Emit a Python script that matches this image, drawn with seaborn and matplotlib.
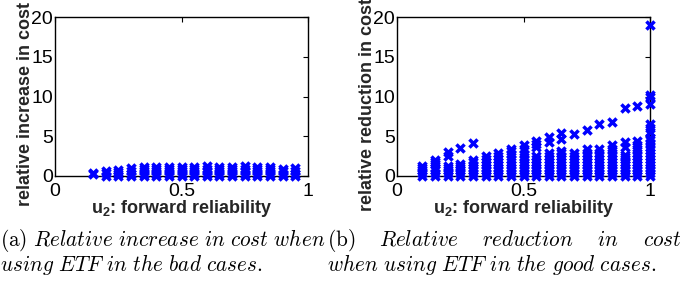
import numpy as np
import pandas as pd
import matplotlib
matplotlib.use("Agg")
import matplotlib.pyplot as plt
import seaborn as sns

# ---------------- data ----------------
# (a) relative increase in cost, bad cases
a_u2 = [0.15, 0.20, 0.25, 0.30, 0.35, 0.40, 0.45, 0.50, 0.55,
        0.60, 0.65, 0.70, 0.75, 0.80, 0.85, 0.90, 0.95]
a_cost = [
    [0.25, 0.4],
    [0.05, 0.35, 0.6],
    [0.0, 0.3, 0.55, 0.75],
    [0.0, 0.3, 0.6, 0.95],
    [0.0, 0.3, 0.6, 0.9, 1.1],
    [0.0, 0.3, 0.6, 0.9, 1.15],
    [0.0, 0.3, 0.6, 0.9, 1.15],
    [0.0, 0.3, 0.6, 0.9, 1.15],
    [0.0, 0.3, 0.6, 0.9, 1.15],
    [0.0, 0.3, 0.6, 0.9, 1.2],
    [0.0, 0.3, 0.6, 0.9, 1.15],
    [0.0, 0.3, 0.6, 0.9, 1.15],
    [0.0, 0.3, 0.6, 0.9, 1.2],
    [0.0, 0.3, 0.6, 0.9, 1.15],
    [0.0, 0.3, 0.6, 0.9, 1.15],
    [0.0, 0.3, 0.6, 0.9],
    [0.0, 0.3, 0.6, 0.95],
]

# (b) relative reduction in cost, good cases
b_u2 = [0.10, 0.15, 0.20, 0.25, 0.30, 0.35, 0.40, 0.45, 0.50, 0.55,
        0.60, 0.65, 0.70, 0.75, 0.80, 0.85, 0.90, 0.95, 1.00]
b_cost = [
    [0.0, 0.35, 0.7, 1.0, 1.3],
    [0.0, 0.35, 0.7, 1.05, 1.5, 1.8, 2.05],
    [0.0, 0.35, 0.7, 1.0, 1.3, 2.5, 3.0],
    [0.0, 0.35, 0.7, 1.0, 1.3, 1.55, 3.5],
    [0.0, 0.35, 0.7, 1.05, 1.4, 1.75, 2.05, 4.2],
    [0.0, 0.35, 0.7, 1.05, 1.4, 1.75, 2.1, 2.55],
    [0.0, 0.35, 0.7, 1.05, 1.4, 1.75, 2.1, 2.5, 2.95],
    [0.0, 0.35, 0.7, 1.05, 1.4, 1.75, 2.2, 2.8, 3.1, 3.45],
    [0.0, 0.35, 0.7, 1.05, 1.4, 1.75, 2.1, 2.45, 2.8, 3.4, 3.9],
    [0.0, 0.35, 0.7, 1.05, 1.4, 1.75, 2.1, 2.55, 3.6, 4.0, 4.4],
    [0.0, 0.35, 0.7, 1.05, 1.4, 1.75, 2.1, 2.5, 2.95, 4.25, 4.95],
    [0.0, 0.35, 0.7, 1.05, 1.4, 1.75, 2.1, 2.5, 2.85, 3.2, 4.6, 5.45],
    [0.0, 0.35, 0.7, 1.05, 1.4, 1.75, 2.1, 2.5, 2.95, 5.3],
    [0.0, 0.35, 0.7, 1.05, 1.4, 1.75, 2.1, 2.5, 2.95, 3.35, 5.75],
    [0.0, 0.35, 0.7, 1.05, 1.4, 1.75, 2.1, 2.5, 2.95, 3.45, 6.5],
    [0.0, 0.35, 0.7, 1.05, 1.4, 1.75, 2.1, 2.5, 2.95, 3.4, 3.85, 6.8],
    [0.0, 0.35, 0.7, 1.05, 1.4, 1.75, 2.1, 2.4, 2.7, 3.6, 4.3, 8.5],
    [0.0, 0.35, 0.7, 1.05, 1.4, 1.75, 2.1, 2.5, 2.95, 3.4, 3.9, 4.4, 8.8],
    [0.0, 0.35, 0.7, 1.05, 1.4, 1.75, 2.1, 2.5, 2.9, 3.3, 3.7, 4.1, 4.5,
     4.8, 5.5, 6.0, 6.5, 9.1, 9.9, 10.2, 19.0],
]

x_ticks = [0, 0.5, 1]
x_ticklabels = ["0", "0.5", "1"]
y_ticks = [0, 5, 10, 15, 20]

xlabel = r"$\mathbf{u}_\mathbf{2}$: forward reliability"
ylabel_a = "relative increase in cost"
ylabel_b = "relative reduction in cost"

caption_a1 = r"$\mathrm{(a)}\ \mathit{Relative\ increase\ in\ cost\ when}$"
caption_a2 = r"$\mathit{using\ ETF\ in\ the\ bad\ cases.}$"
caption_b1_words = [r"$\mathrm{(b)}$", r"$\mathit{Relative}$",
                    r"$\mathit{reduction}$", r"$\mathit{in}$", r"$\mathit{cost}$"]
caption_b2 = r"$\mathit{when\ using\ ETF\ in\ the\ good\ cases.}$"


def to_frame(u2, cost):
    rows = [(u, c) for u, col in zip(u2, cost) for c in col]
    return pd.DataFrame(rows, columns=["u2", "cost"])


df_a = to_frame(a_u2, a_cost)
df_b = to_frame(b_u2, b_cost)

# ---------------- style ----------------
sns.set_theme(style="white")
plt.rcParams["font.family"] = ["Liberation Sans", "DejaVu Sans"]
plt.rcParams["mathtext.fontset"] = "custom"
plt.rcParams["mathtext.bf"] = "Liberation Sans:bold"
plt.rcParams["mathtext.rm"] = "Liberation Sans"
plt.rcParams["mathtext.it"] = "Liberation Sans:italic"

fig = plt.figure(figsize=(6.83, 2.85), dpi=100)
W, H = 683.0, 285.0
AX_TOP, AX_BOT = 17, 176


def make_axes(left_px):
    return fig.add_axes([left_px / W, (H - AX_BOT) / H, 253 / W,
                         (AX_BOT - AX_TOP) / H])


ax_a = make_axes(55)
ax_b = make_axes(397)

for ax, df, ylab in [(ax_a, df_a, ylabel_a), (ax_b, df_b, ylabel_b)]:
    sns.scatterplot(data=df, x="u2", y="cost", ax=ax, marker="x",
                    color="#0000ff", s=34, linewidth=2.5, legend=False,
                    clip_on=False, zorder=3)
    ax.set_xlim(0, 1)
    ax.set_ylim(0, 20)
    ax.set_xticks(x_ticks)
    ax.set_xticklabels(x_ticklabels)
    ax.set_yticks(y_ticks)
    ax.tick_params(direction="in", length=3.5, width=0.8, labelsize=14,
                   top=True, right=True, colors="black")
    ax.tick_params(axis="x", pad=5)
    ax.tick_params(axis="y", pad=1.5)
    for sp in ax.spines.values():
        sp.set_visible(True)
        sp.set_color("black")
        sp.set_linewidth(1.0)
    ax.set_xlabel(xlabel, fontsize=13, fontweight="bold", va="baseline")
    ax.xaxis.set_label_coords(0.5, (AX_BOT - 213) / (AX_BOT - AX_TOP))
    ax.set_ylabel(ylab, fontsize=13, fontweight="bold", va="center")
    ax.yaxis.set_label_coords(-0.115, 0.45)
    ax.set_facecolor("white")

# ---------------- captions ----------------
cap_kw = dict(fontsize=15.3, math_fontfamily="cm", color="black",
              va="baseline", ha="left")
y1 = 1 - 246 / H
y2 = 1 - 271 / H
fig.text(0 / W, y1, caption_a1, **cap_kw)
fig.text(0 / W, y2, caption_a2, **cap_kw)
fig.text(327 / W, y2, caption_b2, **cap_kw)

# justified first line of caption (b), spanning 327 px .. 681 px
renderer = fig.canvas.get_renderer()
words = [fig.text(0, y1, w, **cap_kw) for w in caption_b1_words]
widths = [t.get_window_extent(renderer).width for t in words]
start, end = 327.0, 681.0
gap = (end - start - sum(widths)) / (len(words) - 1)
xpos = start
for t, w in zip(words, widths):
    t.set_x(xpos / W)
    xpos += w + gap

fig.savefig("out.png", dpi=100, facecolor="white")
